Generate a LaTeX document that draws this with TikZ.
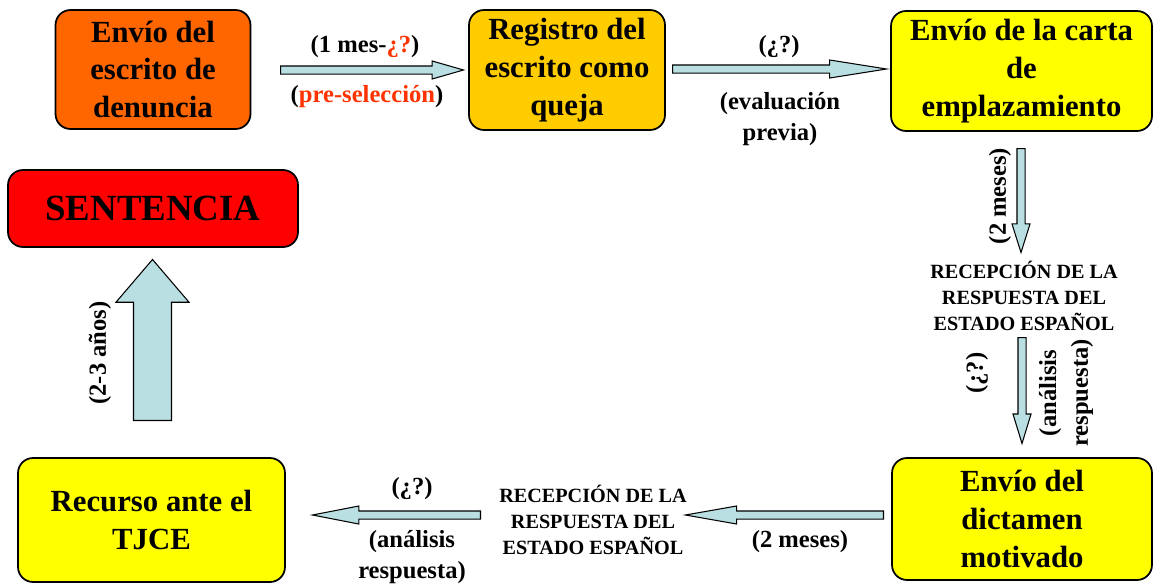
\documentclass[tikz,border=0pt]{standalone}
\usepackage{fontspec}
\setmainfont{Liberation Serif}
\usetikzlibrary{shapes,shapes.arrows,calc}

\definecolor{orangebox}{HTML}{FF6600}
\definecolor{goldbox}{HTML}{FFCC00}
\definecolor{yellowbox}{HTML}{FFFF00}
\definecolor{redbox}{HTML}{FF0000}
\definecolor{arrowblue}{HTML}{B9DFE3}
\definecolor{txtred}{HTML}{FF3300}

\tikzset{
  stage/.style={shape=rectangle,rounded corners=0.3cm,draw=black,line width=1pt,align=center,inner sep=0pt,font=\fontsize{17.5}{21.5}\selectfont\bfseries},
  note/.style={align=center,inner sep=0pt,font=\fontsize{14}{17.6}\selectfont\bfseries},
  reply/.style={align=center,inner sep=0pt,font=\fontsize{11.5}{14.7}\selectfont\bfseries},
  flow/.style n args={3}{to path={let \p1=($(\tikztotarget)-(\tikztostart)$),
      \n1={veclen(\x1,\y1)},\n2={atan2(\y1,\x1)} in
      (\tikztostart) node[single arrow,draw=black,fill=arrowblue,line width=0.6pt,
        inner sep=#1,single arrow head extend=#2,single arrow tip angle=#3,
        minimum height=\n1,rotate=\n2,anchor=tail] {}}}
}

\begin{document}
\begin{tikzpicture}[x=0.02cm,y=-0.02cm]
\useasboundingbox (0,0) rectangle (1153,585);
\node[stage,fill=orangebox,minimum width=3.9cm,minimum height=2.38cm] (0) at (153,69.5) {Envío del\\escrito de\\denuncia};
\node[stage,fill=goldbox,minimum width=3.92cm,minimum height=2.4cm] (1) at (567,70) {Registro del\\escrito como\\queja};
\node[stage,fill=yellowbox,minimum width=5.22cm,minimum height=2.4cm] (2) at (1021.5,71) {Envío de la carta\\de\\emplazamiento};
\node[stage,fill=redbox,minimum width=5.8cm,minimum height=1.54cm,font=\fontsize{21}{25}\selectfont\bfseries] (3) at (153,208.5) {SENTENCIA};
\node[stage,fill=yellowbox,minimum width=5.2cm,minimum height=2.44cm] (4) at (1022,519) {Envío del\\dictamen\\motivado};
\node[stage,fill=yellowbox,minimum width=5.34cm,minimum height=2.48cm] (5) at (151.5,520) {Recurso ante el\\TJCE};

\node[note] (6) at (365,47) {(1 mes-\textcolor{txtred}{¿?})};
\node[note] (7) at (367,97) {(\textcolor{txtred}{pre-selección})};
\node[note] (8) at (779,47) {(¿?)};
\node[note] (9) at (780,119) {(evaluación\\previa)};
\node[note,rotate=90] (10) at (1000,196) {(2 meses)};
\node[reply] (11) at (1024,296) {RECEPCIÓN DE LA\\RESPUESTA DEL\\ESTADO ESPAÑOL};
\node[note,rotate=90] (12) at (977,373) {(¿?)};
\node[note,rotate=90,font=\fontsize{14}{18}\selectfont\bfseries] (13) at (1066,393) {(análisis\\respuesta)};
\node[note] (14) at (412,489) {(¿?)};
\node[note,font=\fontsize{14}{18}\selectfont\bfseries] (15) at (412,557) {(análisis\\respuesta)};
\node[reply] (16) at (593,520) {RECEPCIÓN DE LA\\RESPUESTA DEL\\ESTADO ESPAÑOL};
\node[note] (17) at (800,542) {(2 meses)};
\node[note,rotate=90] (18) at (100,353) {(2-3 años)};

\coordinate (s1) at (280,70);
\coordinate (t1) at (463,70);
\coordinate (s2) at (672,69);
\coordinate (t2) at (886,69);
\coordinate (s3) at (1021,148);
\coordinate (t3) at (1021,252);
\coordinate (s4) at (1022,337);
\coordinate (t4) at (1022,443);
\coordinate (s5) at (884,515);
\coordinate (t5) at (686,515);
\coordinate (s6) at (481,515);
\coordinate (t6) at (313,515);
\coordinate (s7) at (152.5,421);
\coordinate (t7) at (152.5,260);

\path (s1) edge[flow={0.07cm}{0.1cm}{32}] (t1);
\path (s2) edge[flow={0.07cm}{0.1cm}{18}] (t2);
\path (s3) edge[flow={0.07cm}{0.1cm}{35}] (t3);
\path (s4) edge[flow={0.07cm}{0.1cm}{34}] (t4);
\path (s5) edge[flow={0.07cm}{0.1cm}{20}] (t5);
\path (s6) edge[flow={0.07cm}{0.1cm}{22}] (t6);
\path (s7) edge[flow={0.37cm}{0.35cm}{81}] (t7);
\end{tikzpicture}
\end{document}
